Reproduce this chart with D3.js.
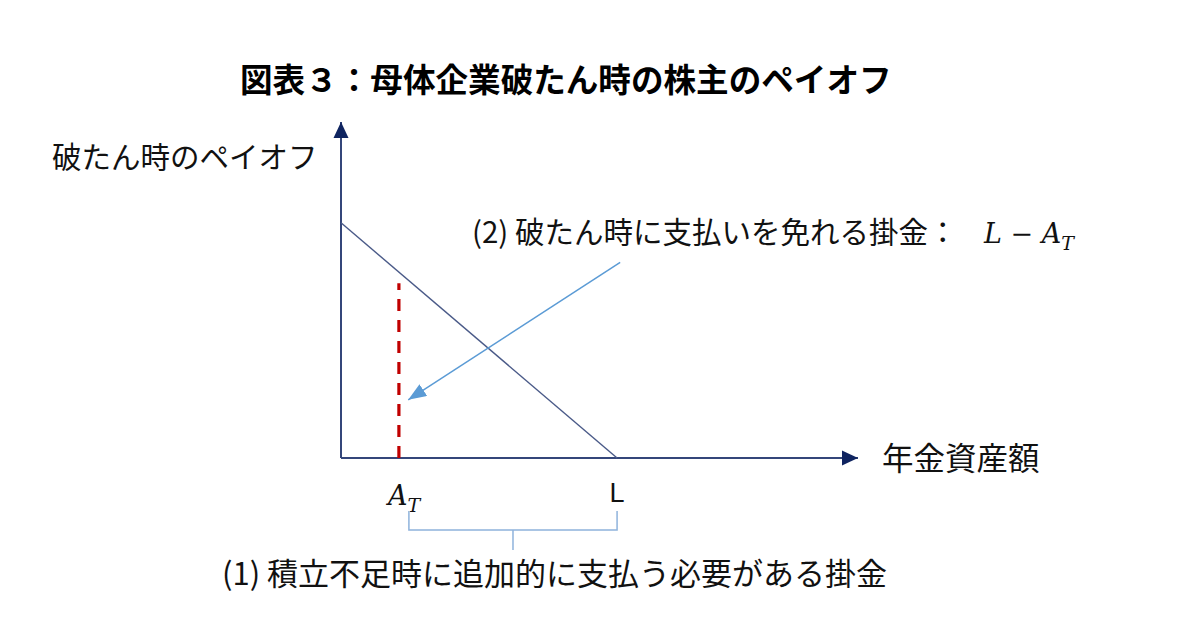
<!DOCTYPE html>
<html><head><meta charset="utf-8">
<script src="https://cdn.jsdelivr.net/npm/d3@7"></script>
<style>
html,body{margin:0;padding:0;background:#fff;}
svg{display:block;}
</style></head>
<body>
<script>
// ---- data ----
const title = "図表３：母体企業破たん時の株主のペイオフ";
const yAxisLabel = "破たん時のペイオフ";
const xAxisLabel = "年金資産額";
const tickNames = ["A", "L"];          // A_T and L
const tickValues = [11.2, 53.4];        // positions on asset axis
const payoffX = [0, 53.4];              // payoff line: asset
const payoffY = [70, 0];                // payoff line: payoff
const dashX = [11.2, 11.2];             // red dashed segment
const dashY = [0, 52];
const arrowX = [54, 13];                // annotation arrow (from -> to)
const arrowY = [58.2, 17.3];
const note2 = "(2) 破たん時に支払いを免れる掛金：";
const note1 = "(1) 積立不足時に追加的に支払う必要がある掛金";

const W = 1194, H = 617;
const svg = d3.select("body").append("svg").attr("width", W).attr("height", H);

const x = d3.scaleLinear().domain([0, 100]).range([341, 858]);
const y = d3.scaleLinear().domain([0, 100]).range([458, 122]);

const axisCol = "#34467a";
const headCol = "#0f2460";
const defs = svg.append("defs");
defs.append("marker").attr("id", "navyHead").attr("markerUnits", "userSpaceOnUse")
  .attr("viewBox", "0 0 16 16").attr("refX", 16).attr("refY", 8)
  .attr("markerWidth", 16).attr("markerHeight", 16).attr("orient", "auto")
  .append("path").attr("d", "M0,0.5 L16,8 L0,15.5 Z").attr("fill", headCol);
defs.append("marker").attr("id", "blueHead").attr("markerUnits", "userSpaceOnUse")
  .attr("viewBox", "0 0 18 14").attr("refX", 18).attr("refY", 7)
  .attr("markerWidth", 18).attr("markerHeight", 14).attr("orient", "auto")
  .append("path").attr("d", "M0,0 L18,7 L0,14 Z").attr("fill", "#5b9bd5");

const jp = "'Noto Sans CJK JP','Noto Sans',sans-serif";
const serif = "'DejaVu Serif','Liberation Serif',serif";

// title
svg.append("text").attr("x", 240).attr("y", 92)
  .attr("font-family", jp).attr("font-weight", "bold").attr("font-size", 32.6)
  .attr("fill", "#000").text(title);

// axes
svg.append("line").attr("x1", x(0)).attr("y1", y(0)).attr("x2", x(0)).attr("y2", y(100))
  .attr("stroke", axisCol).attr("stroke-width", 2).attr("marker-end", "url(#navyHead)");
svg.append("line").attr("x1", x(0)).attr("y1", y(0)).attr("x2", x(100)).attr("y2", y(0))
  .attr("stroke", axisCol).attr("stroke-width", 2).attr("marker-end", "url(#navyHead)");

// axis labels
svg.append("text").attr("x", 52).attr("y", 168)
  .attr("font-family", jp).attr("font-size", 29.5).attr("fill", "#111").text(yAxisLabel);
svg.append("text").attr("x", 882).attr("y", 470)
  .attr("font-family", jp).attr("font-size", 31.5).attr("fill", "#111").text(xAxisLabel);

// payoff line
const line = d3.line().x(d => x(d[0])).y(d => y(d[1]));
svg.append("path").attr("d", line(d3.zip(payoffX, payoffY)))
  .attr("fill", "none").attr("stroke", "#4a5a88").attr("stroke-width", 1.4);

// red dashed line
svg.append("path").attr("d", line(d3.zip(dashX, dashY)))
  .attr("fill", "none").attr("stroke", "#c00000").attr("stroke-width", 3.2)
  .attr("stroke-dasharray", "12,9");

// annotation arrow
svg.append("path").attr("d", line(d3.zip(arrowX, arrowY)))
  .attr("fill", "none").attr("stroke", "#5b9bd5").attr("stroke-width", 1.5)
  .attr("marker-end", "url(#blueHead)");

// tick labels
const tA = svg.append("text").attr("x", x(tickValues[0]) - 11).attr("y", 505)
  .attr("font-family", serif).attr("font-style", "italic").attr("font-size", 27).attr("fill", "#111");
tA.append("tspan").text(tickNames[0]);
tA.append("tspan").attr("dy", 7).attr("font-size", 19).text("T");
svg.append("text").attr("x", x(tickValues[1])).attr("y", 502).attr("text-anchor", "middle")
  .attr("font-family", "'Liberation Sans','DejaVu Sans',sans-serif").attr("font-size", 27)
  .attr("fill", "#111").text(tickNames[1]);

// bracket
const bx0 = x(tickValues[0]) + 10, bx1 = x(tickValues[1]);
const bTop = 511, bMid = 530, bBot = 550;
svg.append("path")
  .attr("d", `M${bx0},${bTop} L${bx0},${bMid} L${bx1},${bMid} L${bx1},${bTop} M${(bx0 + bx1) / 2},${bMid} L${(bx0 + bx1) / 2},${bBot}`)
  .attr("fill", "none").attr("stroke", "#8fb3dc").attr("stroke-width", 1.5);

// note (1)
svg.append("text").attr("x", 222).attr("y", 585)
  .attr("font-family", jp).attr("font-size", 31).attr("fill", "#111").text(note1);

// note (2)
const n2 = svg.append("text").attr("x", 472).attr("y", 243)
  .attr("font-family", jp).attr("font-size", 29.5).attr("fill", "#111");
n2.append("tspan").text(note2);
const m = svg.append("text").attr("x", 984).attr("y", 243)
  .attr("font-family", serif).attr("font-size", 27).attr("fill", "#111");
m.append("tspan").attr("font-style", "italic").text("L");
m.append("tspan").text(" − ");
m.append("tspan").attr("font-style", "italic").text("A");
m.append("tspan").attr("font-style", "italic").attr("dy", 7).attr("font-size", 19).text("T");
</script>
</body></html>
